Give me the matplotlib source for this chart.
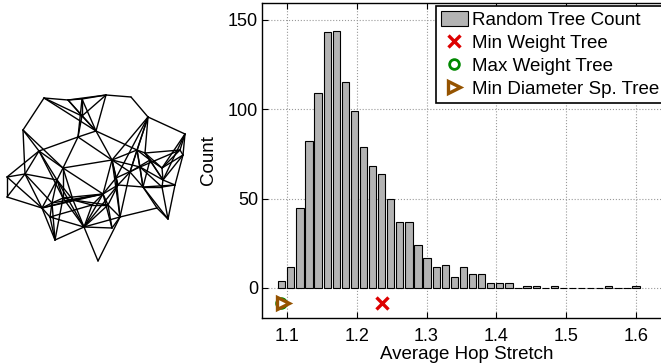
import matplotlib.pyplot as plt
import numpy as np

plt.rcParams['font.family'] = ['Liberation Sans', 'DejaVu Sans']

# histogram of average hop stretch over random spanning trees
bin_lo = 1.0863
bin_width = 0.013
counts = [4, 12, 45, 82, 109, 143, 144, 115, 99, 79,
          68, 64, 50, 37, 37, 24, 17, 12, 13, 6,
          12, 8, 8, 3, 3, 3, 0, 1, 1, 0,
          1, 0, 0, 0, 0, 0, 1, 0, 0, 1]

min_weight = (1.236, -8.5)
max_weight = (1.0915, -8.5)
min_diam = (1.095, -8.5)

# network drawing (node positions in picture units, y down)
nodes = [
    (44, 98), (68, 100), (82, 99), (106, 95), (131, 97), (148, 117),
    (185, 134), (82, 116), (96, 131), (78, 137), (23, 130), (39, 151),
    (7, 177), (25, 174), (63, 168), (7, 197), (42, 208), (55, 240),
    (84, 227), (98, 261), (120, 217), (168, 219), (175, 185), (183, 155),
    (112, 160), (137, 150), (145, 153), (162, 168), (163, 180), (143, 187),
    (103, 194), (112, 228), (157, 208), (63, 198), (52, 203), (50, 217),
    (73, 200), (130, 172), (118, 185), (162, 187), (108, 205), (92, 205),
    (180, 150), (57, 180), (150, 160), (116, 178), (140, 167),
]
edges = [
    (0, 1), (1, 2), (2, 3), (3, 4), (4, 5), (5, 6), (6, 23), (23, 22),
    (22, 21), (21, 32), (32, 20), (20, 19), (19, 18), (18, 17), (17, 16),
    (16, 15), (15, 12), (12, 13), (10, 0), (10, 13), (12, 11),
    (9, 11), (9, 14), (9, 24), (9, 8), (9, 7), (7, 1), (7, 2), (7, 3),
    (8, 7), (1, 8), (0, 7), (8, 25), (3, 8), (8, 24), (2, 9), (1, 3),
    (2, 8), (0, 8),
    (5, 24), (5, 25), (5, 26), (5, 37), (6, 42), (6, 27), (6, 28),
    (25, 26), (26, 42), (42, 23), (25, 24), (24, 37), (25, 37), (26, 27),
    (27, 23), (27, 28), (28, 22), (22, 39), (39, 29), (29, 37), (28, 39),
    (29, 21), (39, 21), (29, 38), (38, 24), (38, 37), (38, 30), (30, 24),
    (30, 40), (40, 20), (40, 31), (31, 20), (31, 18), (30, 18), (40, 38),
    (29, 32), (44, 25), (44, 26), (44, 27), (44, 29), (44, 28), (44, 37),
    (23, 28), (42, 27), (26, 28), (25, 29), (29, 22), (5, 45), (45, 24),
    (45, 30), (45, 38), (45, 20), (46, 25), (46, 28), (46, 39), (46, 24),
    (46, 42), (46, 29), (45, 46), (24, 20), (37, 20), (30, 31),
    (11, 13), (11, 14), (11, 43), (13, 43), (14, 43), (10, 11), (13, 16),
    (15, 13), (16, 34), (34, 33), (33, 36), (36, 41), (41, 30), (43, 33),
    (43, 34), (14, 33), (16, 35), (35, 17), (34, 35), (35, 18), (33, 18),
    (36, 18), (17, 34), (41, 18), (41, 40), (36, 30), (14, 36), (43, 16),
    (13, 34), (18, 20), (17, 33), (10, 14), (33, 30), (34, 30), (12, 16),
    (14, 24), (36, 40), (16, 30), (18, 43), (18, 38), (18, 40), (11, 33),
    (14, 30), (43, 36), (35, 41), (16, 36),
]

fig = plt.figure(figsize=(6.61, 3.64), dpi=100)

# left: the network
gax = fig.add_axes([0, 94 / 364, 200 / 661, 190 / 364])
for a, b in edges:
    gax.plot([nodes[a][0], nodes[b][0]], [nodes[a][1], nodes[b][1]],
             color="black", linewidth=1.0, solid_capstyle="round")
gax.set_xlim(0, 200)
gax.set_ylim(270, 80)
gax.axis("off")

# right: histogram
ax = fig.add_axes([262.3 / 661, 46 / 364, 408.9 / 661, 315.3 / 364])
ax.set_axisbelow(True)
edges_x = bin_lo + bin_width * np.arange(len(counts) + 1)
centers = (edges_x[:-1] + edges_x[1:]) / 2
h_bar = ax.bar(centers, counts, width=0.8 * bin_width, color="#b3b3b3",
               edgecolor="black", linewidth=0.8, label="Random Tree Count")

h_min, = ax.plot(*min_weight, linestyle="none", marker="x", color="#dd0000",
                 markersize=8, markeredgewidth=2.4, label="Min Weight Tree")
h_max, = ax.plot(*max_weight, linestyle="none", marker="o", color="#008800",
                 markerfacecolor="white", markersize=7, markeredgewidth=2,
                 label="Max Weight Tree")
h_dia, = ax.plot(*min_diam, linestyle="none", marker=">", color="#955300",
                 markerfacecolor="white", markersize=9, markeredgewidth=2.4,
                 label="Min Diameter Sp. Tree")

ax.set_xlim(1.065, 1.65)
ax.set_ylim(-16.8, 159.6)
ax.set_xticks([1.1, 1.2, 1.3, 1.4, 1.5, 1.6])
ax.set_yticks([0, 50, 100, 150])
ax.grid(True, linestyle=":", color="#999999", linewidth=0.8)
ax.tick_params(direction="in", length=4, labelsize=13, top=True, right=True)
ax.tick_params(axis="x", pad=7)
ax.tick_params(axis="y", pad=3)
for s in ax.spines.values():
    s.set_linewidth(1.0)

ax.set_xlabel("Average Hop Stretch", fontsize=13.5, labelpad=1)
ax.set_ylabel("Count", fontsize=13.5, labelpad=8)

leg = ax.legend(handles=[h_bar, h_min, h_max, h_dia],
                loc="upper left", bbox_to_anchor=((436 - 262.3) / 408.9, 1 - 3.5 / 315.3),
                fontsize=13.5, fancybox=False, framealpha=1, edgecolor="black",
                borderpad=0.25, handlelength=1.45, handleheight=0.9,
                handletextpad=0.2, labelspacing=0.25, borderaxespad=0)
leg.get_frame().set_linewidth(1.2)

fig.savefig("out.png", dpi=100)
